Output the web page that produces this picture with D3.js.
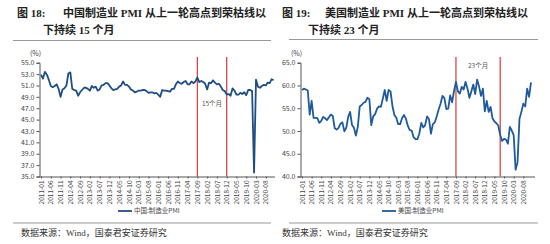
<!DOCTYPE html>
<html>
<head>
<meta charset="utf-8">
<script src="https://cdn.jsdelivr.net/npm/d3@7/dist/d3.min.js"></script>
<style>
  body { margin: 0; background: #fff; }
  svg { display: block; }
  .tick text { fill: #444; }
</style>
</head>
<body>
<svg id="chart" width="550" height="244"></svg>
<script>
// months 2011-01 .. 2020-12
var months = [];
for (var yr = 2011; yr <= 2020; yr++) {
  for (var mo = 1; mo <= 12; mo++) months.push(yr + "-" + (mo < 10 ? "0" + mo : mo));
}

// 中国:制造业PMI
var chinaPMI = [
  52.9, 52.2, 53.4, 52.9, 52.0, 50.9, 50.7, 50.9, 51.2, 50.4, 49.0, 50.3,
  50.5, 51.0, 53.1, 53.3, 50.4, 50.2, 50.1, 49.2, 49.8, 50.2, 50.6, 50.6,
  50.4, 50.1, 50.9, 50.6, 50.8, 50.1, 50.3, 51.0, 51.1, 51.4, 51.4, 51.0,
  50.5, 50.2, 50.3, 50.4, 50.8, 51.0, 51.7, 51.1, 51.1, 50.8, 50.3, 50.1,
  49.8, 49.9, 50.1, 50.1, 50.2, 50.2, 50.0, 49.7, 49.8, 49.8, 49.6, 49.7,
  49.4, 49.0, 50.2, 50.1, 50.1, 50.0, 49.9, 50.4, 50.4, 51.2, 51.7, 51.4,
  51.3, 51.6, 51.8, 51.2, 51.2, 51.7, 51.4, 51.7, 52.4, 51.6, 51.8, 51.6,
  51.3, 50.3, 51.5, 51.4, 51.9, 51.5, 51.2, 51.3, 50.8, 50.2, 50.0, 49.4,
  49.5, 49.2, 50.5, 50.1, 49.4, 49.4, 49.7, 49.5, 49.8, 49.3, 50.2, 50.2,
  50.0, 35.7, 52.0, 50.8, 50.6, 50.9, 51.1, 51.0, 51.5, 51.4, 52.1, 51.9
];

// 美国:制造业PMI
var usPMI = [
  59.0, 59.3, 59.1, 58.9, 53.6, 56.6, 52.9, 52.9, 52.8, 51.8, 52.2, 53.1,
  52.8, 52.4, 53.0, 53.6, 53.3, 50.6, 50.3, 50.7, 51.6, 51.9, 49.9, 50.7,
  53.1, 54.2, 51.3, 50.7, 49.0, 50.9, 55.4, 55.7, 56.2, 56.4, 57.3, 57.0,
  51.3, 53.2, 53.7, 54.9, 55.4, 55.3, 57.1, 59.0, 56.6, 59.0, 58.7, 55.5,
  53.5, 52.9, 51.5, 51.5, 52.8, 53.5, 52.7, 51.1, 50.2, 50.1, 48.6, 48.2,
  48.2, 49.5, 51.8, 50.8, 51.3, 53.2, 52.6, 49.4, 51.5, 51.9, 53.2, 54.7,
  56.0, 57.7, 57.2, 54.8, 54.9, 57.8, 56.3, 58.8, 60.8, 58.7, 58.2, 59.7,
  59.1, 60.8, 59.3, 57.3, 58.7, 60.2, 58.1, 61.3, 59.8, 57.7, 59.3, 54.3,
  56.6, 54.2, 55.3, 52.8, 52.1, 51.7, 51.2, 49.1, 47.8, 48.3, 48.1, 47.2,
  50.9, 50.1, 49.1, 41.5, 43.1, 52.6, 54.2, 56.0, 55.4, 59.3, 57.5, 60.7
];

var chinaTicks = [35, 37, 39, 41, 43, 45, 47, 49, 51, 53, 55];
var usTicks = [40, 45, 50, 55, 60, 65];
var chinaMarks = ["2017-09", "2018-12"];
var usMarks = ["2017-09", "2019-08"];
var xLabels = months.filter(function(d, i) { return i % 5 === 0 && i <= 115; });

var svg = d3.select("#chart");
var serif = "'Liberation Serif', 'Noto Sans CJK SC', serif";
var cjk = "'Noto Sans CJK SC', 'Liberation Sans', sans-serif";

function drawPanel(cfg) {
  var g = svg.append("g");

  // title
  var t1 = g.append("text")
    .attr("x", cfg.titleX).attr("y", 17)
    .style("font-family", serif).style("font-weight", "bold")
    .style("font-size", "11px").attr("fill", "#222");
  t1.append("tspan").text(cfg.fig);
  t1.append("tspan").attr("x", cfg.titleX + cfg.titleIndent).text(cfg.title1);
  g.append("text")
    .attr("x", cfg.titleX + cfg.line2Indent).attr("y", 34)
    .style("font-family", serif).style("font-weight", "bold")
    .style("font-size", "11px").attr("fill", "#222")
    .text(cfg.title2);

  g.append("line")
    .attr("x1", cfg.sepX1).attr("x2", cfg.sepX2)
    .attr("y1", cfg.sepY).attr("y2", cfg.sepY)
    .attr("stroke", "#999").attr("stroke-width", 1);

  var x = d3.scalePoint().domain(months).range(cfg.xRange);
  var y = d3.scaleLinear().domain(cfg.yDomain).range([176.5, 62.7]);

  // y axis
  var yAxis = g.append("g")
    .attr("transform", "translate(" + cfg.axisX + ",0)")
    .call(d3.axisLeft(y).tickValues(cfg.yTicks).tickSize(3).tickFormat(d3.format(".1f")));
  yAxis.select(".domain").attr("stroke", "#555");
  yAxis.selectAll(".tick line").attr("stroke", "#555");
  yAxis.selectAll(".tick text")
    .style("font-family", cjk).style("font-size", "7px").attr("x", -5);

  // x axis
  var xAxis = g.append("g")
    .attr("transform", "translate(0,176.5)")
    .call(d3.axisBottom(x).tickValues(xLabels).tickSize(2).tickSizeOuter(0));
  xAxis.select(".domain")
    .attr("d", "M" + cfg.axisX + ",0.5H" + cfg.xEnd)
    .attr("stroke", "#555");
  xAxis.selectAll(".tick line").attr("stroke", "#555");
  xAxis.selectAll(".tick text")
    .style("font-family", cjk).style("font-size", "6.5px")
    .attr("transform", "rotate(-90)")
    .attr("text-anchor", "end")
    .attr("x", -4).attr("y", 0).attr("dy", "0.32em");

  g.append("text")
    .attr("x", cfg.axisX - 4).attr("y", 56)
    .attr("text-anchor", "middle")
    .style("font-family", cjk).style("font-size", "7px").attr("fill", "#444")
    .text("(%)");

  // red marker lines
  g.selectAll("line.mark").data(cfg.marks).enter().append("line")
    .attr("class", "mark")
    .attr("x1", function(d) { return x(d); }).attr("x2", function(d) { return x(d); })
    .attr("y1", 57).attr("y2", 176.5)
    .attr("stroke", "#d9464a").attr("stroke-width", 1.3);

  g.append("text")
    .attr("x", (x(cfg.marks[0]) + x(cfg.marks[1])) / 2).attr("y", cfg.noteY)
    .attr("text-anchor", "middle")
    .style("font-family", cjk).style("font-size", "6.5px").attr("fill", "#555")
    .text(cfg.note);

  // series
  var line = d3.line()
    .x(function(d, i) { return x(months[i]); })
    .y(function(d) { return y(d); });
  g.append("path")
    .datum(cfg.values)
    .attr("d", line)
    .attr("fill", "none")
    .attr("stroke", cfg.color)
    .attr("stroke-width", 1.8)
    .attr("stroke-linejoin", "round");

  // legend
  var lg = g.append("g").attr("transform", "translate(" + cfg.legendX + ",211)");
  lg.append("line").attr("x1", 0).attr("x2", 14).attr("y1", 0).attr("y2", 0)
    .attr("stroke", cfg.color).attr("stroke-width", 1.8);
  lg.append("text").attr("x", 16).attr("y", 0).attr("dy", "0.35em")
    .style("font-family", cjk).style("font-size", "6.5px").attr("fill", "#444")
    .text(cfg.legend);

  // source
  g.append("line")
    .attr("x1", cfg.sepX1).attr("x2", cfg.sepX2)
    .attr("y1", 223).attr("y2", 223)
    .attr("stroke", "#999").attr("stroke-width", 1);
  g.append("text")
    .attr("x", cfg.srcX).attr("y", 236)
    .style("font-family", serif).style("font-size", "9px").attr("fill", "#333")
    .text("数据来源：Wind，国泰君安证券研究");
}

drawPanel({
  fig: "图 18:", title1: "中国制造业 PMI 从上一轮高点到荣枯线以", title2: "下持续 15 个月",
  titleX: 17, titleIndent: 46, line2Indent: 26,
  sepX1: 13, sepX2: 271, sepY: 40.5,
  xRange: [41, 273.6], axisX: 39.5, xEnd: 275,
  yDomain: [35, 55], yTicks: chinaTicks,
  marks: chinaMarks, note: "15个月", noteY: 106,
  values: chinaPMI, color: "#1f4e85",
  legendX: 118, legend: "中国:制造业PMI", srcX: 21
});

drawPanel({
  fig: "图 19:", title1: "美国制造业 PMI 从上一轮高点到荣枯线以", title2: "下持续 23 个月",
  titleX: 282, titleIndent: 43, line2Indent: 26,
  sepX1: 289, sepX2: 538, sepY: 39.5,
  xRange: [302, 531], axisX: 300.5, xEnd: 535,
  yDomain: [40, 65], yTicks: usTicks,
  marks: usMarks, note: "23个月", noteY: 68,
  values: usPMI, color: "#1f5a9c",
  legendX: 382, legend: "美国:制造业PMI", srcX: 282
});
</script>
</body>
</html>
